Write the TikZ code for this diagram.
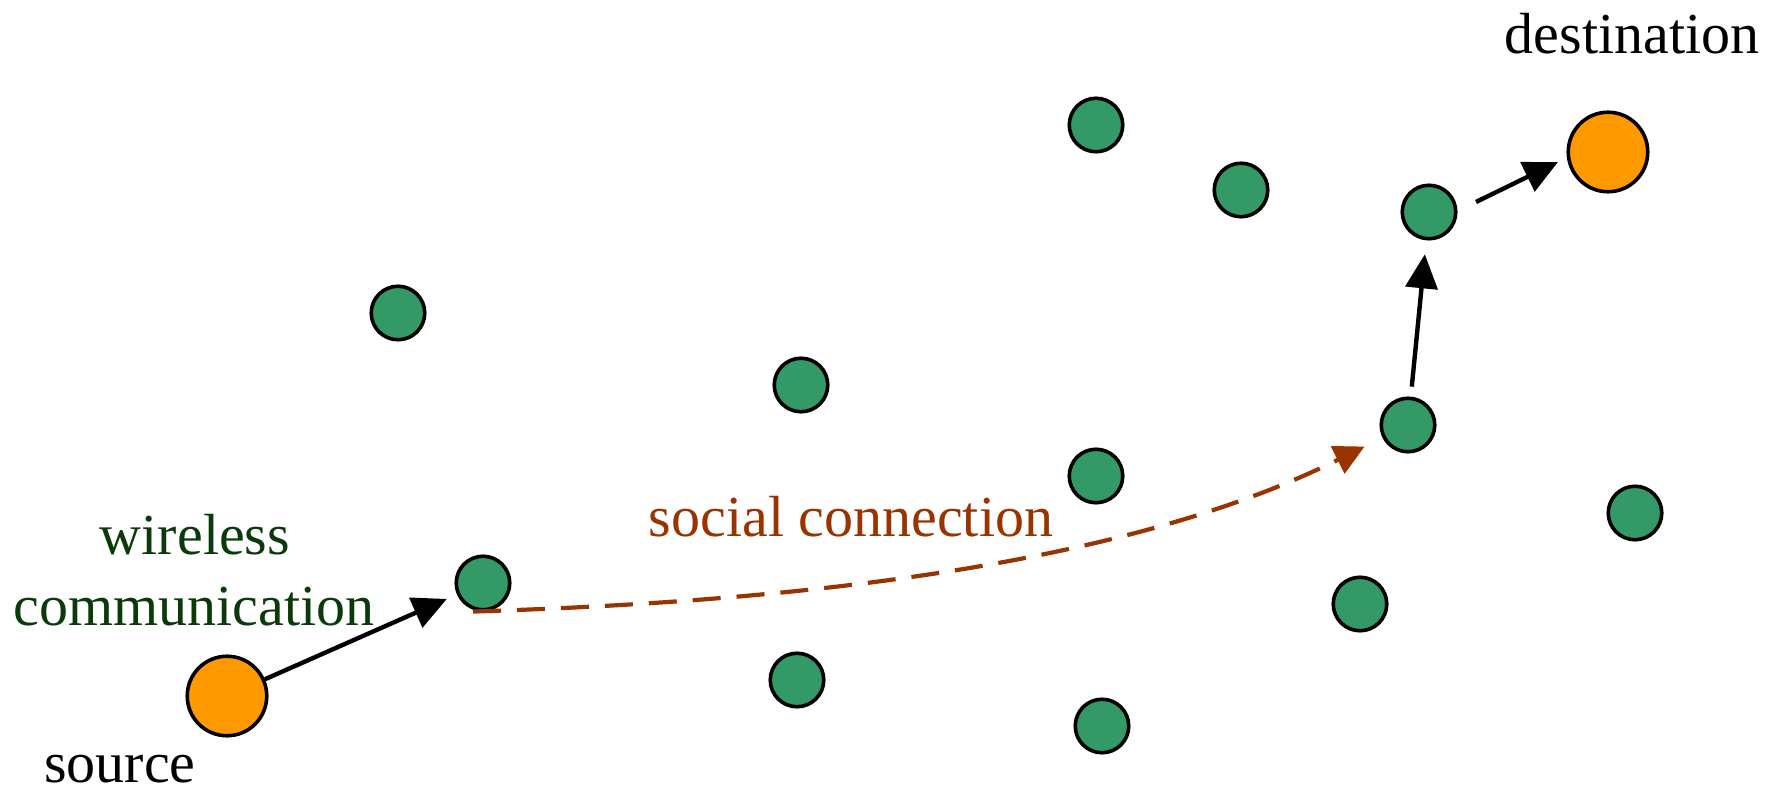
\documentclass[tikz,border=0pt]{standalone}
\usepackage{fontspec}
\setmainfont{Liberation Serif}
\usetikzlibrary{arrows.meta}

\definecolor{nodegreen}{RGB}{51,153,102}
\definecolor{nodeorange}{RGB}{255,153,0}
\definecolor{socialbrown}{RGB}{153,51,0}
\definecolor{wirelessgreen}{RGB}{10,58,10}

\tikzset{
  peer/.style={circle, draw=black, line width=1.8pt, fill=nodegreen,
               inner sep=0pt, minimum size=26.75pt},
  endpoint/.style={circle, draw=black, line width=1.8pt, fill=nodeorange,
                   inner sep=0pt, minimum size=39.75pt},
  label/.style={anchor=base, inner sep=0pt, font=\fontsize{29}{34}\selectfont},
  hop/.style={line width=2.2pt, draw=black,
              -{Triangle[length=17pt,width=16pt]}},
  social/.style={line width=2.1pt, draw=socialbrown, dash pattern=on 14pt off 8pt,
                 -{Triangle[length=15pt,width=15pt,fill=socialbrown]}}
}

\begin{document}
\begin{tikzpicture}[x=0.5pt,y=0.5pt]
  \useasboundingbox (0,0) rectangle (1777,792);

  % source and destination
  \node[endpoint] (src) at (227,96) {};
  \node[endpoint] (dst) at (1608,640) {};

  % relays on the path
  \node[peer] (w1)    at (483,209) {};
  \node[peer] (relay) at (1408,367) {};
  \node[peer] (nd)    at (1429,580) {};

  % other peers
  \node[peer] (g1) at (398,479) {};
  \node[peer] (g2) at (1096,667) {};
  \node[peer] (g3) at (1241,602) {};
  \node[peer] (g4) at (801,407) {};
  \node[peer] (g5) at (1096,316) {};
  \node[peer] (g6) at (1635,279) {};
  \node[peer] (g7) at (1360,188) {};
  \node[peer] (g8) at (797,112) {};
  \node[peer] (g9) at (1102,66) {};

  % labels
  \node[label] (tdst)  at (1632,738) {destination};
  \node[label] (tsrc)  at (120,10) {source};
  \node[label, text=wirelessgreen] (twl) at (195,237) {wireless};
  \node[label, text=wirelessgreen] (tcm) at (194,166) {communication};
  \node[label, text=socialbrown] (tsoc) at (851,255) {social connection};

  % wireless hops
  \draw[hop, shorten >=5.5pt] (src) -- (w1);
  \draw[hop, shorten <=5pt, shorten >=7pt] (relay) -- (nd);
  \draw[hop] ([shift={(47,10)}]nd.center) -- ([shift={(-50,-10)}]dst.center);

  % social link
  \coordinate (sstart) at ([xshift=-5pt]w1.south);
  \draw[social, shorten >=10pt] (sstart) .. controls (776,190) and (1116,222) .. (relay);
\end{tikzpicture}
\end{document}
